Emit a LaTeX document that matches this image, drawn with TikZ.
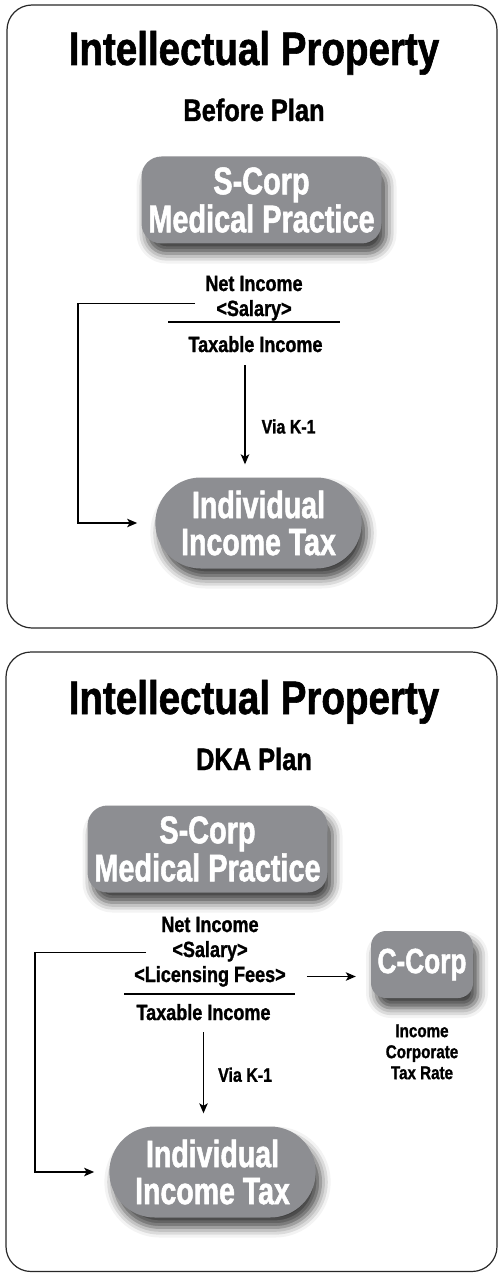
\documentclass[tikz,border=0pt]{standalone}
\usepackage{fontspec}
\setmainfont{Liberation Sans}[FakeStretch=0.82,FakeBold=1.2]
\newfontfamily\boxfont{Liberation Sans}[FakeStretch=0.75,FakeBold=1.4]
\usetikzlibrary{positioning,arrows.meta,shapes.misc,shadows.blur}
\definecolor{boxgray}{RGB}{141,142,146}
\definecolor{framegray}{RGB}{40,40,40}

\begin{document}
\begin{tikzpicture}[x=1pt,y=-1pt,font=\bfseries]
    \tikzstyle{panel}=[draw=framegray, line width=1.2pt, rounded corners=25pt]
    \tikzstyle{title}=[font=\fontsize{47}{50}\selectfont\bfseries, anchor=base]
    \tikzstyle{plan}=[font=\fontsize{31}{34}\selectfont\bfseries, anchor=base]
    \tikzstyle{shade}=[blur shadow={shadow xshift=5pt, shadow yshift=-10pt, shadow blur radius=10pt, shadow opacity=75}]
    \tikzstyle{corp}=[shade, fill=boxgray, text=white, align=center, rounded corners=20pt, minimum width=240pt, minimum height=87pt, font=\fontsize{38.5}{38}\boxfont\bfseries]
    \tikzstyle{tax}=[shade, rounded rectangle, fill=boxgray, text=white, align=center, minimum width=213pt, minimum height=91pt, font=\fontsize{38}{37}\boxfont\bfseries]
    \tikzstyle{ccorp}=[shade, fill=boxgray, text=white, rounded corners=15pt, minimum width=102pt, minimum height=67pt, font=\fontsize{35}{36}\boxfont\bfseries]
    \tikzstyle{item}=[font=\fontsize{22}{25}\selectfont\bfseries, text height=16pt, text depth=5pt, inner sep=2pt, node distance=25pt, on grid]
    \tikzstyle{via}=[font=\fontsize{19.5}{22}\selectfont\bfseries, inner sep=0pt]
    \tikzstyle{rate}=[font=\fontsize{18.5}{21}\selectfont\bfseries, align=center, inner sep=0pt]
    \tikzstyle{conn}=[line width=1.3pt, -{Stealth[length=10pt,width=8.5pt,inset=2.5pt]}]
    \tikzstyle{rule}=[line width=1.3pt]

    \useasboundingbox (0,0) rectangle (498,1273);

    \draw[panel] (7,5) rectangle (497,628);

    \node[title] (titlebefore) at (254,65) {Intellectual Property};
    \node[plan] (before) at (254,121) {Before Plan};

    \node[corp] (scorpbefore) at (261.5,200) {S-Corp\\Medical Practice};

    \node[item] (netincbefore) at (254,285.5) {Net Income};
    \node[item,below=of netincbefore] (salarybefore) {<Salary>};
    \node[item,below=36pt of salarybefore,xshift=1.5pt] (taxablebefore) {Taxable Income};
    \coordinate (ruleabefore) at (168,322);
    \coordinate (rulebbefore) at (340,322);
    \draw[rule] (ruleabefore) -- (rulebbefore);

    \node[tax] (indivbefore) at (258.5,523) {Individual\\Income Tax};

    \coordinate (loopbefore) at (78,400);
    \draw[conn,shorten <=19pt,shorten >=18pt] ([yshift=7pt]salarybefore.west) -| (loopbefore) |- (indivbefore.west);
    \draw[conn,shorten <=6pt,shorten >=13pt] ([xshift=-10.5pt]taxablebefore.south) -- ([xshift=-10.5pt]taxablebefore.south |- indivbefore.north)
        node[via,pos=0.57,right=16pt] {Via K-1};

    \draw[panel] (6,652) rectangle (497,1271.5);

    \node[title] (titledka) at (254,714) {Intellectual Property};
    \node[plan] (dka) at (254,770) {DKA Plan};

    \node[corp] (scorpdka) at (207.5,849) {S-Corp\\Medical Practice};

    \node[item] (netincdka) at (210,926.5) {Net Income};
    \node[item,below=of netincdka] (salarydka) {<Salary>};
    \node[item,below=of salarydka] (licensing) {<Licensing Fees>};
    \node[item,below=38pt of licensing,xshift=-6.5pt] (taxabledka) {Taxable Income};
    \coordinate (ruleadka) at (124,994);
    \coordinate (rulebdka) at (295,994);
    \draw[rule] (ruleadka) -- (rulebdka);

    \node[ccorp] (ccorp) at (422,964.5) {C-Corp};
    \node[rate,below=26pt of ccorp] (corprate) {Income\\Corporate\\Tax Rate};

    \node[tax] (indivdka) at (212.5,1172) {Individual\\Income Tax};

    \coordinate (loopdka) at (35,1050);
    \draw[conn,shorten <=24pt,shorten >=15pt] ([yshift=-1pt]salarydka.west) -| (loopdka) |- (indivdka.west);
    \draw[conn,shorten <=5pt,shorten >=13pt] (taxabledka.south) -- (taxabledka.south |- indivdka.north)
        node[via,pos=0.48,right=14pt] {Via K-1};
    \draw[conn,shorten <=19pt,shorten >=15pt] (licensing.east) -- (licensing.east -| ccorp.west);
\end{tikzpicture}
\end{document}
